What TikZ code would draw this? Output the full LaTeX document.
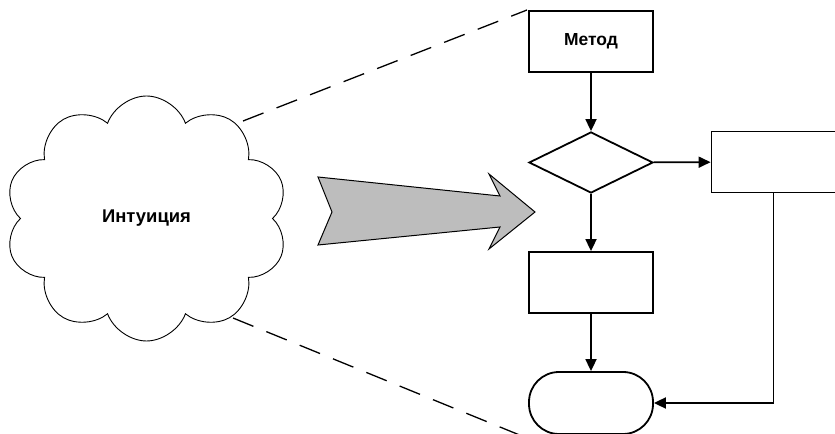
\documentclass[tikz,border=0pt]{standalone}
\usepackage{fontspec}
\setmainfont{Liberation Sans}
\usepackage{xcolor}
\usepackage{tikz}
\usetikzlibrary{shapes}
\usetikzlibrary{shapes.geometric}
\usetikzlibrary{shapes.symbols}
\usetikzlibrary{arrows.meta}
\definecolor{arrow_gray}{RGB}{189,189,189}
\tikzset{ flow_box/.style = {rectangle, draw, line width=1.8bp, minimum width=124bp, minimum height=61bp, inner sep=0pt, font=\fontsize{17.5}{20}\selectfont\bfseries} }
\tikzset{ flow_if/.style = {diamond, draw, line width=1.8bp, minimum width=124bp, minimum height=61bp, inner sep=0pt} }
\tikzset{ flow_end/.style = {rectangle, rounded corners=30bp, draw, line width=1.8bp, minimum width=124bp, minimum height=62bp, inner sep=0pt} }
\tikzset{ flow_arrow/.style = {line width=1.8bp, -{Triangle[length=12bp,width=11bp]}} }

\begin{document}
\begin{tikzpicture}[x=1bp,y=-1bp]
    \useasboundingbox (0,0) rectangle (835,434);
    \node [cloud, cloud puffs=10, cloud puff arc=140, draw, line width=0.9bp, minimum width=283bp, minimum height=245bp, inner sep=0pt, font=\fontsize{18.5}{21}\selectfont\bfseries] (idea) at (146.5,218.5) {Интуиция};
    \node [style=flow_box] (method) at (591,41.5) {Метод};
    \node [style=flow_if] (check) at (591,162.5) {};
    \node [style=flow_box] (side) at (773.5,162) {};
    \node [style=flow_box] (work) at (591,282.5) {};
    \node [style=flow_end] (done) at (591,403) {};
    \coordinate (up_a) at (243,121);
    \coordinate (up_b) at (527,10);
    \coordinate (lo_a) at (233,318);
    \coordinate (lo_b) at (522,436);
    \draw [dashed, dash pattern=on 22bp off 14bp, line width=1.3bp] (up_a) to (up_b);
    \draw [dashed, dash pattern=on 22bp off 14bp, line width=1.3bp] (lo_a) to (lo_b);
    \draw [fill=arrow_gray, line width=1bp, line join=miter]
        (318,177) -- (500,196) -- (489,174) -- (535,212) -- (489,249) -- (500,227) -- (318,245) -- (332,212) -- cycle;
    \draw [style=flow_arrow] (method) to (check);
    \draw [style=flow_arrow] (check) to (side);
    \draw [style=flow_arrow] (check) to (work);
    \draw [style=flow_arrow] (work) to (done);
    \draw [style=flow_arrow] (side.south) |- (done.east);
\end{tikzpicture}
\end{document}
